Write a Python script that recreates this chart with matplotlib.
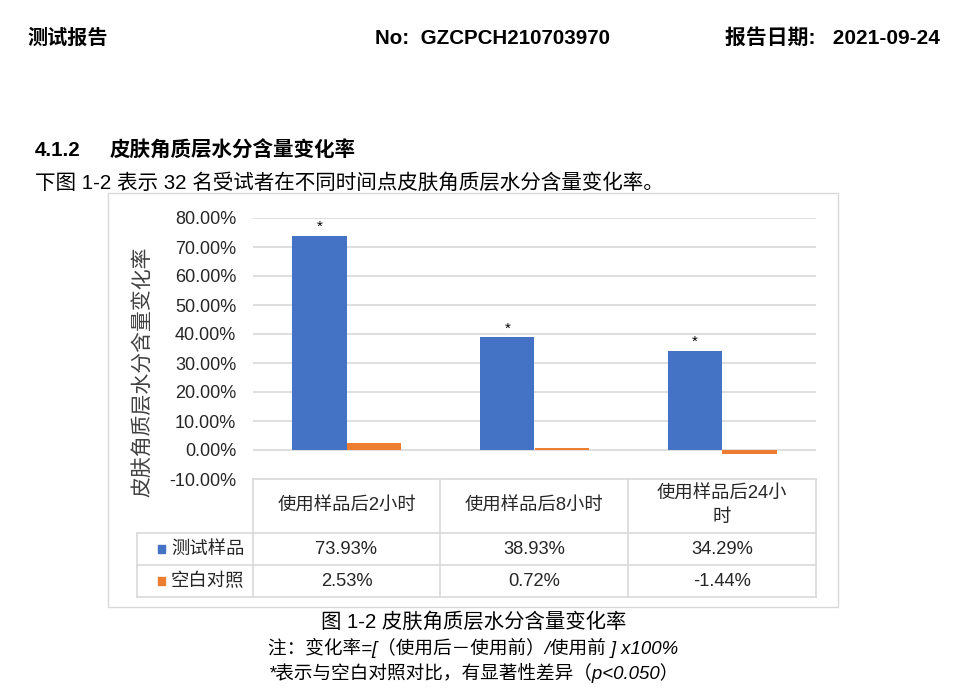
import numpy as np
import matplotlib.pyplot as plt
from matplotlib.lines import Line2D
from matplotlib.patches import Rectangle

plt.rcParams['font.family'] = ['Liberation Sans', 'Noto Sans CJK SC', 'DejaVu Sans']

# 数据
categories = ['使用样品后2小时', '使用样品后8小时', '使用样品后24小\n时']
series_names = ['测试样品', '空白对照']
test_values = [73.93, 38.93, 34.29]
blank_values = [2.53, 0.72, -1.44]
significant = [True, True, True]
yticks = [-10, 0, 10, 20, 30, 40, 50, 60, 70, 80]

blue = '#4472C4'
orange = '#ED7D31'
grid_c = '#d9d9d9'

W, H = 960, 691
fig = plt.figure(figsize=(W / 100, H / 100), dpi=100)


def fx(px):
    return px / W


def fy(py):
    return 1 - py / H


# 页眉
fig.text(fx(27), fy(38), '测试报告', fontsize=14.5, fontweight='bold', va='center')
fig.text(fx(375), fy(38), 'No:  GZCPCH210703970', fontsize=14.8, fontweight='bold', va='center')
fig.text(fx(725), fy(38), '报告日期:   2021-09-24', fontsize=15, fontweight='bold', va='center')

fig.text(fx(35), fy(151), '4.1.2', fontsize=14.8, fontweight='bold', va='center')
fig.text(fx(110), fy(151), '皮肤角质层水分含量变化率', fontsize=14.8, fontweight='bold', va='center')
fig.text(fx(35), fy(183), '下图 1-2 表示 32 名受试者在不同时间点皮肤角质层水分含量变化率。',
         fontsize=14.8, va='center')

# 图表外框
fig.add_artist(Rectangle((fx(108), fy(607)), fx(838) - fx(108), fy(193) - fy(607),
                         transform=fig.transFigure, fill=False, ec=grid_c, lw=1))

# 绘图区
left, right, top, bottom = 253, 816, 218, 479
ax = fig.add_axes([fx(left), fy(bottom), fx(right) - fx(left), fy(top) - fy(bottom)])
x = np.arange(len(categories))
bw = 0.29
ax.bar(x - bw / 2, test_values, bw, color=blue, zorder=3)
ax.bar(x + bw / 2, blank_values, bw, color=orange, zorder=3)
for xi, v, s in zip(x, test_values, significant):
    if s:
        ax.text(xi - bw / 2, v + 0.6, '*', ha='center', va='bottom', fontsize=11)

ax.set_xlim(-0.5, 2.5)
ax.set_ylim(-10, 80)
ax.set_yticks(yticks)
ax.set_yticklabels([f'{t:.2f}%' for t in yticks], fontsize=13, color='#262626')
ax.tick_params(axis='y', length=0, pad=12)
ax.set_xticks([])
for s in ax.spines.values():
    s.set_visible(False)
for t in yticks[1:]:
    ax.axhline(t, color=grid_c, lw=1.2, zorder=1)

fig.text(fx(143), fy(372), '皮肤角质层水分含量变化率', rotation=90, fontsize=15,
         ha='center', va='center', color='#404040')

# 数据表
col_x = [253, 440, 628, 816]
row_y = [479, 533, 565, 597]
leg_x = 137


def hline(x0, x1, y):
    fig.add_artist(Line2D([fx(x0), fx(x1)], [fy(y), fy(y)], transform=fig.transFigure,
                          color=grid_c, lw=1.2))


def vline(xp, y0, y1):
    fig.add_artist(Line2D([fx(xp), fx(xp)], [fy(y0), fy(y1)], transform=fig.transFigure,
                          color=grid_c, lw=1.2))


hline(col_x[0], col_x[-1], row_y[0])
for y in row_y[1:]:
    hline(leg_x, col_x[-1], y)
for xp in col_x:
    vline(xp, row_y[0], row_y[-1])
vline(leg_x, row_y[1], row_y[-1])

for i, cat in enumerate(categories):
    cx = (col_x[i] + col_x[i + 1]) / 2
    fig.text(fx(cx), fy((row_y[0] + row_y[1]) / 2), cat, ha='center', va='center',
             fontsize=13.2, color='#262626', linespacing=1.45)

rows = [test_values, blank_values]
colors = [blue, orange]
for r, (name, vals, c) in enumerate(zip(series_names, rows, colors)):
    cy = (row_y[r + 1] + row_y[r + 2]) / 2
    fig.add_artist(Rectangle((fx(158), fy(cy + 4)), fx(7), fy(0) - fy(8),
                             transform=fig.transFigure, color=c))
    fig.text(fx(171), fy(cy), name, ha='left', va='center', fontsize=13.2, color='#262626')
    for i, v in enumerate(vals):
        cx = (col_x[i] + col_x[i + 1]) / 2
        fig.text(fx(cx), fy(cy), f'{v:.2f}%', ha='center', va='center',
                 fontsize=13.2, color='#262626')

# 图注
fig.text(fx(474), fy(622), '图 1-2 皮肤角质层水分含量变化率', ha='center', va='center',
         fontsize=14.7)
fig.text(fx(473), fy(648), '注：变化率=[（使用后－使用前）/使用前 ] x100%', ha='center',
         va='center', fontsize=13.4, style='italic')
fig.text(fx(474), fy(673), '*表示与空白对照对比，有显著性差异（p<0.050）', ha='center',
         va='center', fontsize=13.4, style='italic')

fig.savefig('out.png', dpi=100)
